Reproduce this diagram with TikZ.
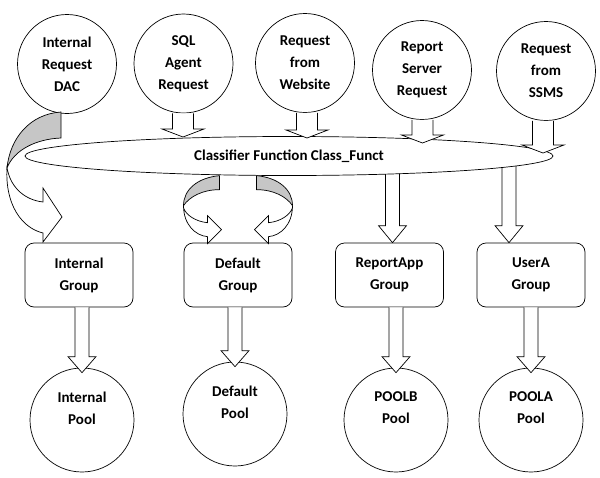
\documentclass[tikz,border=0pt]{standalone}
\usepackage{fontspec}
\setmainfont{Carlito}
\usetikzlibrary{shapes.geometric,calc}
\pgfdeclarelayer{bg}
\pgfsetlayers{bg,main}

\begin{document}
\begin{tikzpicture}
	[x=1pt,y=-1pt,line width=.7pt,
	 font=\bfseries\fontsize{15}{22}\selectfont,
	 every node/.style={align=center},
	 req/.style={circle,draw,fill=white,minimum size=99pt,inner sep=0pt},
	 grp/.style={rectangle,draw,fill=white,rounded corners=9pt,minimum width=108pt,minimum height=64pt},
	 pool/.style={circle,draw,fill=white,minimum size=104pt,inner sep=0pt,label={[yshift=12pt]center:#1}},
	 blk/.style={draw,fill=white,line width=.7pt,line join=miter},
	 back/.style={draw,fill=gray!45,line width=.7pt}]
	\useasboundingbox (0,0) rectangle (600,477);
	
	\node[req] (r1) at (67,64) {Internal\\Request\\DAC};
	\node[req] (r2) at (183.5,63.5) {SQL\\Agent\\Request};
	\node[req] (r3) at (305,63) {Request\\from\\Website};
	\node[req] (r4) at (422,70) {Report\\Server\\Request};
	\node[req] (r5) at (546,71) {Request\\from\\SSMS};
	
	\node[ellipse,draw,fill=white,minimum width=528pt,minimum height=39pt,inner sep=0pt] (cls) at (289,156) {Classifier Function Class\_Funct};
	
	\node[grp] (g1) at (79,275) {Internal\\Group};
	\node[grp] (g2) at (238,275) {Default\\Group};
	\node[grp] (g3) at (389.5,275) {ReportApp\\Group};
	\node[grp] (g4) at (531,275) {UserA\\Group};
	
	\node[pool={Internal\\Pool}] (p1) at (82,420) {};
	\node[pool={Default\\Pool}] (p2) at (235,414) {};
	\node[pool={POOLB\\Pool}] (p3) at (396,420) {};
	\node[pool={POOLA\\Pool}] (p4) at (531,420) {};
	
	\coordinate (t2) at (183,137);
	\coordinate (t3) at (307,138);
	\coordinate (t4) at (422.5,143);
	\coordinate (t5) at (543,153);
	\coordinate (d3) at ($(g3.north)+(3,0)$);
	\coordinate (d4) at ($(g4.north)+(-22,0)$);
	
	% requests into the classifier
	\foreach \from/\to in {r2/t2,r3/t3,r4/t4,r5/t5}
	\draw[blk] let \p1=(\from.south), \p2=(\to) in
		(\x2-10.5pt,\y1) -- (\x2-10.5pt,\y2+8pt) -- (\x2-21pt,\y2+8pt) -- (\x2,\y2)
		-- (\x2+21pt,\y2+8pt) -- (\x2+10.5pt,\y2+8pt) -- (\x2+10.5pt,\y1);
	
	% classifier to groups
	\begin{pgfonlayer}{bg}
	\foreach \to in {d3,d4}
	\draw[blk] let \p1=(cls.center), \p2=(\to) in
		(\x2-7pt,\y1) -- (\x2-7pt,\y2+17pt) -- (\x2-14pt,\y2+17pt) -- (\x2,\y2)
		-- (\x2+14pt,\y2+17pt) -- (\x2+7pt,\y2+17pt) -- (\x2+7pt,\y1);
	\end{pgfonlayer}
	
	% groups to pools
	\foreach \from/\to in {g1/p1,g2/p2,g3/p3,g4/p4}
	\draw[blk] let \p1=(\from.south), \p2=(\to.north) in
		(\x2-7pt,\y1) -- (\x2-7pt,\y2+11pt) -- (\x2-14pt,\y2+11pt) -- (\x2,\y2-5pt)
		-- (\x2+14pt,\y2+11pt) -- (\x2+7pt,\y2+11pt) -- (\x2+7pt,\y1);
	
	% DAC around to the internal group
	\draw[back] (61,112) .. controls (30,114) and (10,138) .. (7,168)
		.. controls (14,150) and (36,139) .. (61,138) -- cycle;
	\draw[blk] (7,168) .. controls (5,205) and (22,228) .. (43,233) -- (43,242) -- (62,217)
		-- (43,188) -- (43,202) .. controls (25,200) and (12,188) .. (8,172) -- cycle;
	
	% default loops
	\foreach \s in {1,-1} {
	\begin{scope}[shift={(g2.north)},xscale=\s]
		\draw[back] (-18.5,-67) .. controls (-40.5,-65) and (-54.5,-53) .. (-54.5,-37)
			.. controls (-48.5,-46) and (-35.5,-53) .. (-18.5,-53) -- cycle;
		\draw[blk] (-54.5,-37) .. controls (-54.5,-18) and (-42.5,-7) .. (-30.5,-6) -- (-30.5,1)
			-- (-16.5,-13) -- (-30.5,-27) -- (-30.5,-20) .. controls (-42.5,-21) and (-52.5,-28) .. (-54.5,-35) -- cycle;
	\end{scope}
	}
\end{tikzpicture}
\end{document}
